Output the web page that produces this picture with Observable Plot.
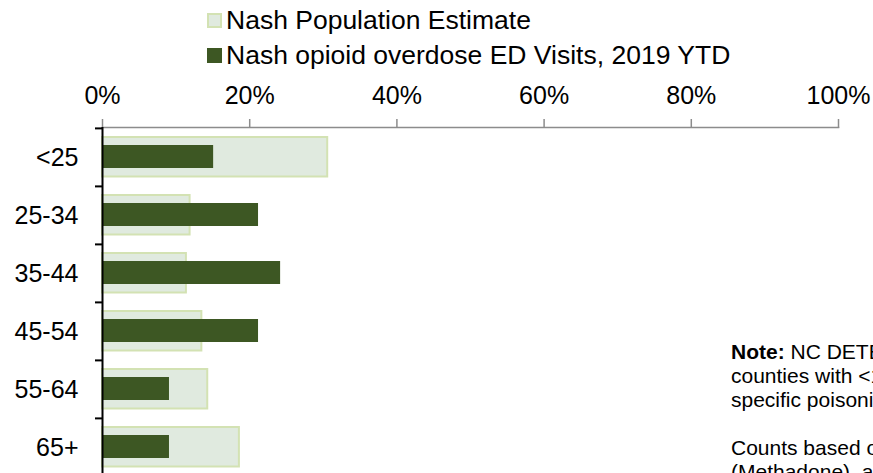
<!DOCTYPE html>
<html>
<head>
<meta charset="utf-8">
<script src="https://cdn.jsdelivr.net/npm/d3@7"></script>
<script src="https://cdn.jsdelivr.net/npm/@observablehq/plot@0.6"></script>
<style>
  html, body { margin: 0; padding: 0; width: 873px; height: 473px; overflow: hidden; background: #fff; }
  body { position: relative; font-family: "Liberation Sans", Arial, sans-serif; color: #000; }
  #legend { position: relative; height: 70px; }
  .li { position: absolute; left: 207px; display: flex; align-items: center; font-size: 26.5px; white-space: nowrap; line-height: 1; }
  .sw { width: 15px; height: 15px; box-sizing: border-box; margin-right: 4px; }
  #note { position: absolute; left: 731px; top: 340px; font-size: 21px; line-height: 24px; white-space: nowrap; }
  #chart svg { display: block; }
</style>
</head>
<body>
<div id="legend"></div>
<div id="chart"></div>
<div id="note"></div>
<script>
const ages = ["<25", "25-34", "35-44", "45-54", "55-64", "65+"];
const population = [0.306, 0.119, 0.114, 0.135, 0.143, 0.186];
const edVisits = [0.151, 0.212, 0.242, 0.212, 0.091, 0.091];
const xTicks = [0, 0.2, 0.4, 0.6, 0.8, 1.0];
const seriesNames = ["Nash Population Estimate", "Nash opioid overdose ED Visits, 2019 YTD"];
const noteLines = [
  "<b>Note:</b> NC DETECT data for",
  "counties with &lt;10 visits",
  "specific poisoning codes",
  "&nbsp;",
  "Counts based on",
  "(Methadone), and"
];

const lightFill = "#e0eadf", lightStroke = "#d3e2b3", dark = "#3d5723";

const popData = ages.map((a, i) => ({age: a, value: population[i]}));
const edData = ages.map((a, i) => ({age: a, value: edVisits[i]}));

// legend
const legend = document.getElementById("legend");
const sw = [
  {fill: lightFill, stroke: lightStroke, top: 7},
  {fill: dark, stroke: dark, top: 42}
];
seriesNames.forEach((name, i) => {
  const d = document.createElement("div");
  d.className = "li";
  d.style.top = sw[i].top + "px";
  d.innerHTML = `<span class="sw" style="background:${sw[i].fill};border:2px solid ${sw[i].stroke}"></span><span>${name}</span>`;
  legend.appendChild(d);
});

document.getElementById("note").innerHTML = noteLines.join("<br>");

const chart = Plot.plot({
  width: 873,
  height: 410,
  marginTop: 57,
  marginLeft: 102,
  marginRight: 35,
  marginBottom: 4,
  style: {fontFamily: "'Liberation Sans', Arial, sans-serif", color: "#000", background: "transparent"},
  x: {domain: [0, 1], ticks: xTicks, tickFormat: d3.format(".0%")},
  y: {domain: ages, padding: 0},
  marks: [
    Plot.barX(popData, {x: "value", y: "age", fill: lightFill, stroke: lightStroke, strokeWidth: 2, insetTop: 9, insetBottom: 9.5}),
    Plot.barX(edData, {x: "value", y: "age", fill: dark, insetTop: 17, insetBottom: 18}),
    Plot.frame({anchor: "top", stroke: "#8c8c8c", strokeWidth: 1.5}),
    Plot.axisX({anchor: "top", ticks: xTicks, tickFormat: d3.format(".0%"), tickSize: 9, tickPadding: 15, fontSize: 25, stroke: "#8c8c8c", strokeWidth: 1.5, fill: "#000", label: null}),
    Plot.ruleX([0], {stroke: "#000", strokeWidth: 2}),
    Plot.axisY({tickSize: 7, text: null, dy: -29.1, stroke: "#000", strokeWidth: 2, label: null}),
    Plot.axisY({tickSize: 0, tickPadding: 24, fontSize: 25, fill: "#000", label: null})
  ]
});
document.getElementById("chart").appendChild(chart);
</script>
</body>
</html>
